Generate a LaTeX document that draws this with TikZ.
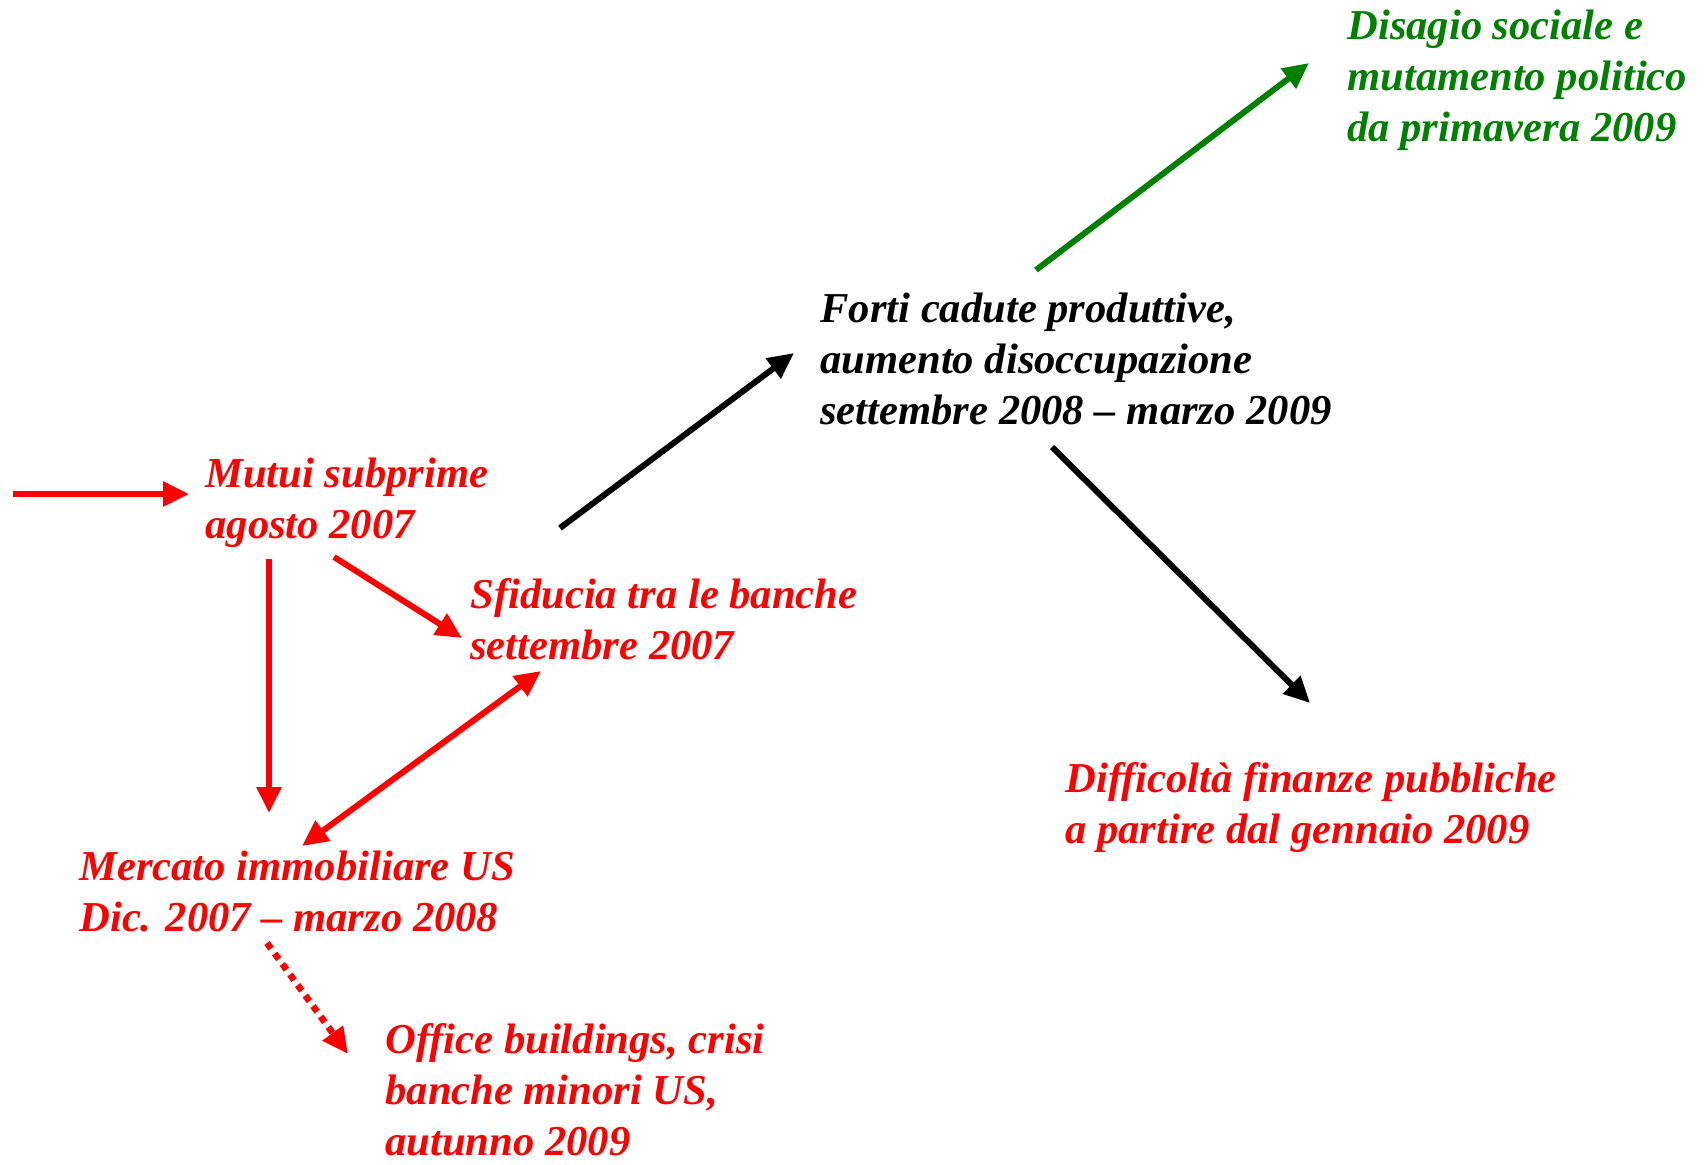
\documentclass[tikz,border=0pt]{standalone}
\usepackage{fontspec}
\setmainfont{Liberation Serif}
\usetikzlibrary{arrows.meta,calc}
\definecolor{crisired}{RGB}{255,0,0}
\definecolor{crisigreen}{RGB}{0,128,0}
\tikzset{
lbl/.style={anchor=base west,inner sep=0pt,align=left,font=\fontsize{21.3}{25.5}\selectfont\bfseries\itshape},
arr/.style={line width=3pt,-{Triangle[length=13pt,width=12pt]}},
}

\begin{document}
\begin{tikzpicture}[x=0.5pt,y=-0.5pt]
\useasboundingbox (0,0) rectangle (1704,1164);
\node[lbl,crisired] (mutui) at (205,538) {Mutui subprime\\agosto 2007};
\node[lbl,crisired] (sfiducia) at (470,659) {Sfiducia tra le banche\\settembre 2007};
\node[lbl,crisired] (mercato) at (79,931) {Mercato immobiliare US\\Dic. 2007 -- marzo 2008};
\node[lbl,crisired] (office) at (385,1155) {Office buildings, crisi\\banche minori US,\\autunno 2009};
\node[lbl] (forti) at (820,424) {Forti cadute produttive,\\aumento disoccupazione\\settembre 2008 -- marzo 2009};
\node[lbl,crisigreen] (disagio) at (1347,141) {Disagio sociale e\\mutamento politico\\da primavera 2009};
\node[lbl,crisired] (difficolta) at (1065,843) {Difficoltà finanze pubbliche\\a partire dal gennaio 2009};
\coordinate (origine) at (13,494);
\draw[arr,crisired] (origine) -- ($(mutui.base west)+(-16,-44)$);
\draw[arr,crisired] ($(mutui.base west)+(64,21)$) -- ($(mercato.base west)+(190,-118)$);
\draw[arr,crisired] ($(mutui.base west)+(129,19)$) -- ($(sfiducia.base west)+(-8,-21)$);
\draw[arr,crisired,{Triangle[length=13pt,width=12pt]}-{Triangle[length=13pt,width=12pt]}] ($(sfiducia.base west)+(71,12)$) -- ($(mercato.base west)+(223,-85)$);
\draw[arr,crisired,line width=3.3pt,dash pattern=on 3.5pt off 3pt] ($(mercato.base west)+(188,12)$) -- ($(office.base west)+(-37,-101)$);
\draw[arr] ($(mutui.base west)+(355,-10)$) -- ($(forti.base west)+(-26,-71)$);
\draw[arr,crisigreen] ($(forti.base west)+(216,-154)$) -- ($(disagio.base west)+(-38,-78)$);
\draw[arr] ($(forti.base west)+(232,23)$) -- ($(difficolta.base west)+(245,-140)$);
\end{tikzpicture}
\end{document}
